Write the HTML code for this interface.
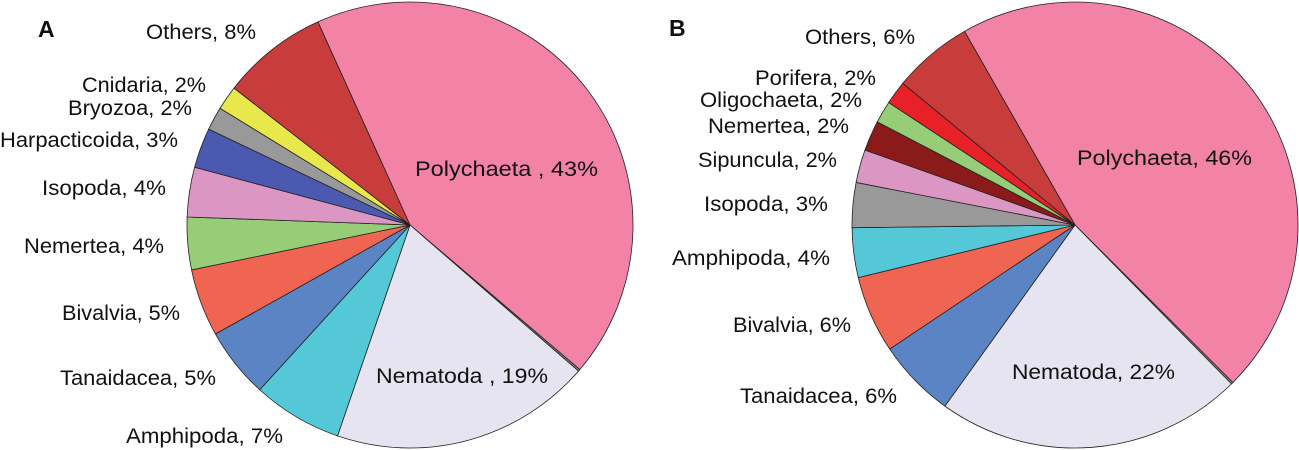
<!DOCTYPE html>
<html><head><meta charset="utf-8"><style>
html,body{margin:0;padding:0;background:#fff;}
svg{display:block;font-family:"Liberation Sans",sans-serif;}
text{font-size:21px;fill:#111;}
</style></head><body>
<svg id="chart" width="1299" height="450" viewBox="0 0 1299 450">
<text x="38" y="37" style="font-size:23px;font-weight:bold">A</text>
<text x="669" y="36" style="font-size:23px;font-weight:bold">B</text>
<g id="pieA"></g>
<g id="pieB"></g>
<g id="labels"></g>
</svg>
<script>
const catsA = ["Polychaeta","Trace","Nematoda","Amphipoda","Tanaidacea","Bivalvia","Nemertea","Isopoda","Harpacticoida","Bryozoa","Cnidaria","Others"];
const valsA = [43,0.14,18.9,6.5,5.1,4.9,3.8,3.6,2.9,1.7,1.75,7.7];
const colsA = ["#f283a6","#888","#e6e4f0","#55c8d8","#5b84c4","#f06552","#96cd76","#dc96c4","#4b5ab0","#999999","#e8e84c","#c83c3c"];
const catsB = ["Polychaeta","Trace","Nematoda","Tanaidacea","Bivalvia","Amphipoda","Isopoda","Sipuncula","Nemertea","Oligochaeta","Porifera","Others"];
const valsB = [45.75,0.14,22.3,5.7,5.6,3.6,3.25,2.4,2.2,1.6,1.7,5.8];
const colsB = ["#f283a6","#888","#e6e4f0","#5b84c4","#f06552","#55c8d8","#999999","#dc96c4","#8b1a1a","#96cd76","#e82028","#c83c3c"];
const NS="http://www.w3.org/2000/svg";
function drawPie(gid,cats,vals,cols,cx,cy,r,start){
  const g=document.getElementById(gid);
  const tot=vals.reduce((a,b)=>a+b,0);
  let a=start*Math.PI/180;
  vals.forEach((v,i)=>{
    const span=v/tot*2*Math.PI;
    const a2=a+span;
    const x1=cx+r*Math.sin(a),y1=cy-r*Math.cos(a);
    const x2=cx+r*Math.sin(a2),y2=cy-r*Math.cos(a2);
    const p=document.createElementNS(NS,"path");
    p.setAttribute("d",`M${cx},${cy}L${x1},${y1}A${r},${r} 0 ${span>Math.PI?1:0} 1 ${x2},${y2}Z`);
    p.setAttribute("fill",cols[i]);
    p.setAttribute("stroke","#222");
    p.setAttribute("stroke-width","0.8");
    
    
    g.appendChild(p);
    a=a2;
  });
}
drawPie("pieA",catsA,valsA,colsA,410,225,223,-24.4);
drawPie("pieB",catsB,valsB,colsB,1075,225,223,-29.7);
// [text, left x, right x, baseline]
const labels=[
["Others, 8%",146,256,39],["Cnidaria, 2%",82,206,92],["Bryozoa, 2%",68,192,115],["Harpacticoida, 3%",0,178,147],["Isopoda, 4%",42,166,195],["Nemertea, 4%",24,164,253],["Bivalvia, 5%",62,180,320],["Tanaidacea, 5%",60,216,385],["Amphipoda, 7%",126,283,443],["Polychaeta , 43%",415,598,176],["Nematoda , 19%",376,548,383],
["Others, 6%",805,915,44],["Porifera, 2%",755,876,85],["Oligochaeta, 2%",700,862,107],["Nemertea, 2%",708,849,133],["Sipuncula, 2%",698,837,167],["Isopoda, 3%",704,828,211],["Amphipoda, 4%",672,830,265],["Bivalvia, 6%",733,851,332],["Tanaidacea, 6%",740,897,403],["Polychaeta, 46%",1077,1252,165],["Nematoda, 22%",1012,1175,379]];
const lg=document.getElementById("labels");
labels.forEach(l=>{
  const t=document.createElementNS(NS,"text");
  t.textContent=l[0];
  t.setAttribute("x",l[1]);t.setAttribute("y",l[3]);
  t.setAttribute("textLength",l[2]-l[1]);
  t.setAttribute("lengthAdjust","spacingAndGlyphs");
  
  
  lg.appendChild(t);
});
</script>
</body></html>
